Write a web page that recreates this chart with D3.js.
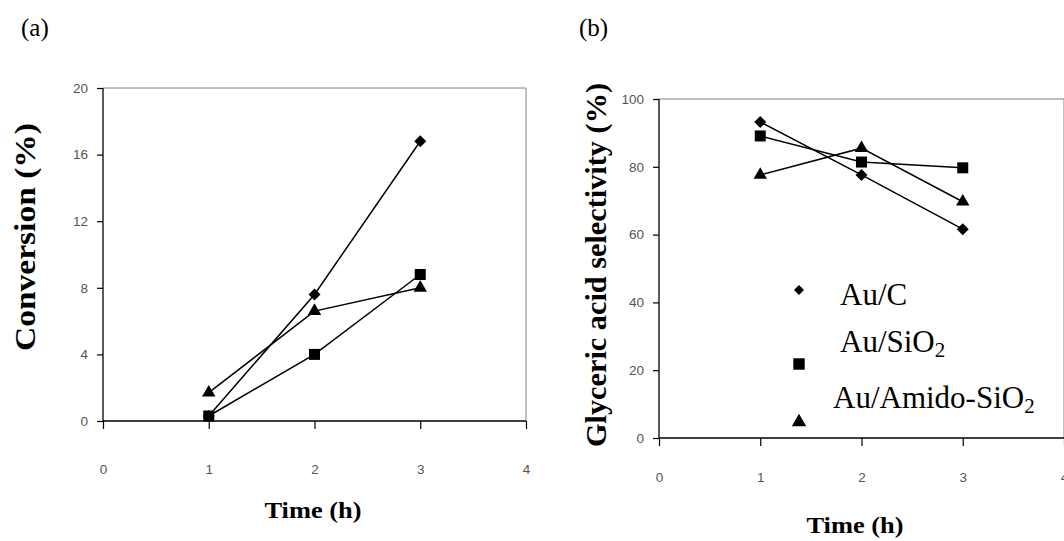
<!DOCTYPE html>
<html>
<head>
<meta charset="utf-8">
<script src="https://cdn.jsdelivr.net/npm/d3@7"></script>
<style>
  body { margin: 0; background: #fff; }
  svg { display: block; }
</style>
</head>
<body>
<svg id="chart" width="1064" height="541"></svg>
<script>
// data
const times = [1, 2, 3];
const seriesNames = ['Au/C', 'Au/SiO2', 'Au/Amido-SiO2'];
const conversionAuC = [0.3, 7.6, 16.8];
const conversionAuSiO2 = [0.3, 4.0, 8.8];
const conversionAmido = [1.7, 6.6, 8.0];
const selectAuC = [93.2, 77.6, 61.6];
const selectAuSiO2 = [89.1, 81.4, 79.7];
const selectAmido = [77.6, 85.5, 69.7];
const xTicks = [0, 1, 2, 3, 4];
const yTicksA = [0, 4, 8, 12, 16, 20];
const yTicksB = [0, 20, 40, 60, 80, 100];

const svg = d3.select('#chart');
const serif = 'Liberation Serif, Times New Roman, serif';

const shapes = [
  { type: d3.symbolSquare, size: 72, rot: 45 },
  { type: d3.symbolSquare, size: 121, rot: 0 },
  { type: d3.symbolTriangle, size: 78, rot: 0 }
];

function drawPanel(opt) {
  const x = d3.scaleLinear().domain([0, 4]).range([opt.left, opt.right]);
  const y = d3.scaleLinear().domain(opt.yDomain).range([opt.bottom, opt.top]);
  const g = svg.append('g');

  // plot frame (top/right)
  g.append('path')
    .attr('d', `M${opt.left},${opt.top}H${opt.right}V${opt.bottom}`)
    .attr('fill', 'none').attr('stroke', '#808080').attr('stroke-width', 1);

  const xAxis = g.append('g')
    .attr('transform', `translate(0,${opt.bottom})`)
    .call(d3.axisBottom(x).tickValues(xTicks).tickSize(8).tickPadding(opt.xPad).tickFormat(d3.format('d')));
  const yAxis = g.append('g')
    .attr('transform', `translate(${opt.left},0)`)
    .call(d3.axisLeft(y).tickValues(opt.yTicks).tickSize(6).tickPadding(9));
  [xAxis, yAxis].forEach(a => {
    a.select('.domain').attr('stroke', '#000').attr('stroke-width', 1.3);
    a.selectAll('.tick line').attr('stroke', '#000').attr('stroke-width', 1.2);
    a.selectAll('text').attr('font-family', 'Liberation Sans, Arial, sans-serif')
      .attr('font-size', 13.5).attr('fill', '#555');
  });
  yAxis.select('.domain').attr('d', `M0,${opt.top}V${opt.bottom}`);
  xAxis.select('.domain').attr('d', `M${opt.left},0H${opt.right}`);

  const line = d3.line().x((d, i) => x(times[i])).y(d => y(d));
  opt.series.forEach(vals => {
    g.append('path').attr('d', line(vals))
      .attr('fill', 'none').attr('stroke', '#000').attr('stroke-width', 1.5);
  });
  opt.series.forEach((vals, k) => {
    const s = shapes[k];
    g.selectAll(null).data(vals).enter().append('path')
      .attr('d', d3.symbol().type(s.type).size(s.size))
      .attr('transform', (d, i) => `translate(${x(times[i])},${y(d)}) rotate(${s.rot})`)
      .attr('fill', '#000');
  });

  // axis titles
  g.append('text')
    .attr('x', opt.xTitleX).attr('y', opt.xTitleY)
    .attr('text-anchor', 'middle')
    .attr('font-family', serif).attr('font-weight', 'bold').attr('font-size', 24)
    .attr('textLength', 97).attr('lengthAdjust', 'spacingAndGlyphs')
    .text('Time (h)');
  g.append('text')
    .attr('transform', `translate(${opt.yTitleX},${opt.yTitleY}) rotate(-90)`)
    .attr('text-anchor', 'middle')
    .attr('font-family', serif).attr('font-weight', 'bold').attr('font-size', 30)
    .attr('textLength', opt.yTitleLen).attr('lengthAdjust', 'spacingAndGlyphs')
    .text(opt.yTitle);

  g.append('text').attr('x', opt.labelX).attr('y', 36)
    .attr('font-family', serif).attr('font-size', 25).text(opt.label);
  return { x, y, g };
}

drawPanel({
  left: 103, right: 526, top: 88, bottom: 421,
  yDomain: [0, 20], yTicks: yTicksA, xPad: 35,
  series: [conversionAuC, conversionAuSiO2, conversionAmido],
  xTitleX: 313, xTitleY: 518,
  yTitle: 'Conversion (%)', yTitleX: 35, yTitleY: 237, yTitleLen: 228,
  label: '(a)', labelX: 21
});

drawPanel({
  left: 659, right: 1064, top: 99, bottom: 438,
  yDomain: [0, 100], yTicks: yTicksB, xPad: 26,
  series: [selectAuC, selectAuSiO2, selectAmido],
  xTitleX: 855, xTitleY: 533,
  yTitle: 'Glyceric acid selectivity (%)', yTitleX: 606, yTitleY: 265, yTitleLen: 364,
  label: '(b)', labelX: 579
});

// legend inside panel (b)
const legend = svg.append('g')
  .attr('font-family', serif)
  .attr('font-size', 31);
const legendRows = [
  { mx: 799, my: 290, tx: 840, ty: 305, size: 50 },
  { mx: 799, my: 364, tx: 840, ty: 352, size: 130 },
  { mx: 799, my: 422, tx: 833, ty: 408, size: 90 }
];
seriesNames.forEach((name, k) => {
  const r = legendRows[k], s = shapes[k];
  legend.append('path')
    .attr('d', d3.symbol().type(s.type).size(r.size))
    .attr('transform', `translate(${r.mx},${r.my}) rotate(${s.rot})`)
    .attr('fill', '#000');
  const t = legend.append('text').attr('x', r.tx).attr('y', r.ty);
  const m = name.match(/^(.*?)(2)?$/);
  t.append('tspan').text(m[1]);
  if (m[2]) t.append('tspan').attr('font-size', 21).attr('dy', 5).text(m[2]);
});
</script>
</body>
</html>
